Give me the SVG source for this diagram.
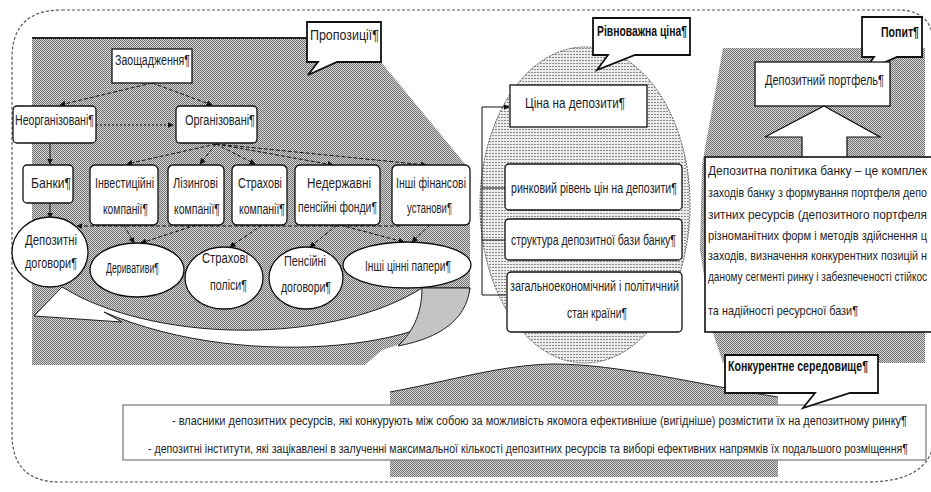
<svg xmlns="http://www.w3.org/2000/svg" width="931" height="492" viewBox="0 0 931 492">
<style>
.t{font-family:"Liberation Sans",Arial,sans-serif;font-size:11px;fill:#1e1e28}
.r{font-size:9px}
.q{font-size:9.5px}
.b{font-weight:bold;fill:#111}
.box{fill:#fff;stroke:#111;stroke-width:1.3}
.call{fill:#fff;stroke:#111;stroke-width:1.8;stroke-linejoin:miter}
.dash{fill:none;stroke:#111;stroke-width:1;stroke-dasharray:4 2}
.sol{fill:none;stroke:#111;stroke-width:1}
</style>
<defs>
<pattern id="dots" width="2" height="2" patternUnits="userSpaceOnUse">
<rect width="2" height="2" fill="#d6d6d6"/>
<rect width="1" height="1" fill="#727272"/>
<rect x="1" y="1" width="1" height="1" fill="#727272"/>
</pattern>
<pattern id="horz" width="3" height="3" patternUnits="userSpaceOnUse">
<rect width="3" height="3" fill="#ececec"/>
<rect width="2" height="1" fill="#8a8a8a"/>
</pattern>
<marker id="ah" viewBox="0 0 10 10" refX="9" refY="5" markerWidth="6" markerHeight="6" orient="auto">
<path d="M0,0 L10,5 L0,10 z" fill="#111"/>
</marker>
</defs>

<g id="background">
<path d="M62 10 H898 Q932 10 934 44 V440 Q930 482 866 482 H60 Q12 482 12 434 V58 Q12 10 62 10 Z" fill="none" stroke="#555" stroke-width="1.2" stroke-dasharray="3 2"/>
<polygon points="32,38 307,38 307,62 381,62 470,170 470,290 440,332 382,350 365,365 32,365" fill="url(#dots)"/>
<line x1="32" y1="38" x2="307" y2="38" stroke="#222" stroke-width="2"/>
<polygon points="723,48 925,48 925,363 723,363 713,333 700,250 702,165" fill="url(#dots)"/>
<path d="M390 477 V392 C450 381 500 365 553 364 C620 364 700 385 778 397 V477 Z" fill="url(#dots)"/>
<path d="M390 392 C450 381 500 365 553 364 C620 364 700 385 778 397" fill="none" stroke="#222" stroke-width="1"/>
<ellipse cx="585" cy="205" rx="105" ry="158" fill="url(#horz)" stroke="#555" stroke-width="1" stroke-dasharray="2 1"/>
</g>

<g id="curved-arrow">
<path d="M34 316 L62 287 L80 297 C180 345 340 340 422 288 L470 288 C462 345 250 375 104 312 L122 322 Z" fill="#fff" stroke="#222" stroke-width="1"/>
<path d="M422 288 L470 288 C466 320 440 338 398 346 C415 330 422 310 422 288 Z" fill="#c4c4c4" stroke="#222" stroke-width="1"/>
</g>

<g id="connectors">
<path class="dash" d="M152 83 L60 105" marker-end="url(#ah)"/>
<path class="dash" d="M152 83 L212 105" marker-end="url(#ah)"/>
<path class="sol" d="M96 125 L173 125" stroke-dasharray="2 2" marker-end="url(#ah)"/>
<path class="sol" d="M50 143 L50 164" marker-end="url(#ah)"/>
<path class="dash" d="M216 144 L127 164" marker-end="url(#ah)"/>
<path class="dash" d="M216 144 L200 164" marker-end="url(#ah)"/>
<path class="dash" d="M216 144 L255 164" marker-end="url(#ah)"/>
<path class="dash" d="M216 144 L333 165" marker-end="url(#ah)"/>
<path class="dash" d="M216 144 L426 165" marker-end="url(#ah)"/>
<path class="sol" d="M50 203 L50 218" marker-end="url(#ah)"/>
<path class="dash" d="M400 226 L77 226" marker-end="url(#ah)"/>
<path class="dash" d="M124 225 L134 243" marker-end="url(#ah)"/>
<path class="dash" d="M196 225 L141 243" marker-end="url(#ah)"/>
<path class="dash" d="M262 225 L230 247" marker-end="url(#ah)"/>
<path class="dash" d="M337 225 L310 247" marker-end="url(#ah)"/>
<path class="dash" d="M340 225 L404 242" marker-end="url(#ah)"/>
<path class="dash" d="M430 225 L412 242" marker-end="url(#ah)"/>
<path class="sol" d="M506 295 H482 V107 H509" marker-end="url(#ah)"/>
<path class="sol" d="M482 188 H505 M482 240 H505"/>
</g>

<g id="callout-proposition">
<path class="call" d="M307 22 H381 V62 H337 L308 75 L318 62 H307 Z"/>
<text class="t" transform="translate(310,40) scale(1,1.27)" textLength="69" lengthAdjust="spacingAndGlyphs">Пропозиції¶</text>
</g>
<g id="node-savings">
<rect class="box" x="112" y="49" width="80" height="34"/>
<text class="t" transform="translate(115,65) scale(1,1.27)" textLength="75" lengthAdjust="spacingAndGlyphs">Заощадження¶</text>
</g>
<g id="node-unorganized">
<rect class="box" x="13" y="106" width="83" height="37" rx="4"/>
<text class="t" transform="translate(15,125) scale(1,1.27)" textLength="79" lengthAdjust="spacingAndGlyphs">Неорганізовані¶</text>
</g>
<g id="node-organized">
<rect class="box" x="176" y="106" width="81" height="37" rx="4"/>
<text class="t" transform="translate(185,125) scale(1,1.27)" textLength="70" lengthAdjust="spacingAndGlyphs">Організовані¶</text>
</g>
<g id="node-banks">
<rect class="box" x="23" y="165" width="50" height="38" rx="4"/>
<text class="t" transform="translate(31,188) scale(1,1.27)" textLength="40" lengthAdjust="spacingAndGlyphs">Банки¶</text>
</g>
<g id="node-invest">
<rect class="box" x="90" y="165" width="68" height="60" rx="5"/>
<text class="t" transform="translate(95,188) scale(1,1.27)" textLength="59" lengthAdjust="spacingAndGlyphs">Інвестиційні</text>
<text class="t" transform="translate(103,214) scale(1,1.27)" textLength="45" lengthAdjust="spacingAndGlyphs">компанії¶</text>
</g>
<g id="node-leasing">
<rect class="box" x="168" y="165" width="56" height="60" rx="5"/>
<text class="t" transform="translate(173,188) scale(1,1.27)" textLength="45" lengthAdjust="spacingAndGlyphs">Лізингові</text>
<text class="t" transform="translate(174,214) scale(1,1.27)" textLength="46" lengthAdjust="spacingAndGlyphs">компанії¶</text>
</g>
<g id="node-insurance">
<rect class="box" x="232" y="165" width="55" height="60" rx="5"/>
<text class="t" transform="translate(238,188) scale(1,1.27)" textLength="44" lengthAdjust="spacingAndGlyphs">Страхові</text>
<text class="t" transform="translate(239,214) scale(1,1.27)" textLength="46" lengthAdjust="spacingAndGlyphs">компанії¶</text>
</g>
<g id="node-pension-funds">
<rect class="box" x="295" y="165" width="85" height="60" rx="5"/>
<text class="t" transform="translate(307,188) scale(1,1.27)" textLength="64" lengthAdjust="spacingAndGlyphs">Недержавні</text>
<text class="t" transform="translate(298,212) scale(1,1.27)" textLength="79" lengthAdjust="spacingAndGlyphs">пенсійні фонди¶</text>
</g>
<g id="node-other-inst">
<rect class="box" x="392" y="165" width="78" height="60" rx="5"/>
<text class="t" transform="translate(396,188) scale(1,1.27)" textLength="70" lengthAdjust="spacingAndGlyphs">Інші фінансові</text>
<text class="t" transform="translate(407,213) scale(1,1.27)" textLength="45" lengthAdjust="spacingAndGlyphs">установи¶</text>
</g>
<g id="node-deposit-contracts">
<ellipse class="box" cx="50" cy="252" rx="38" ry="35"/>
<text class="t" transform="translate(25,245) scale(1,1.27)" textLength="52" lengthAdjust="spacingAndGlyphs">Депозитні</text>
<text class="t" transform="translate(25,268) scale(1,1.27)" textLength="52" lengthAdjust="spacingAndGlyphs">договори¶</text>
</g>
<g id="node-derivatives">
<ellipse class="box" cx="137" cy="270" rx="47" ry="27"/>
<text class="t" transform="translate(106,273) scale(1,1.27)" textLength="53" lengthAdjust="spacingAndGlyphs">Деривативи¶</text>
</g>
<g id="node-policies">
<ellipse class="box" cx="224" cy="278" rx="39" ry="31"/>
<text class="t" transform="translate(202,263) scale(1,1.27)" textLength="46" lengthAdjust="spacingAndGlyphs">Страхові</text>
<text class="t" transform="translate(210,290) scale(1,1.27)" textLength="37" lengthAdjust="spacingAndGlyphs">поліси¶</text>
</g>
<g id="node-pension-contracts">
<ellipse class="box" cx="306" cy="278" rx="37" ry="31"/>
<text class="t" transform="translate(284,266) scale(1,1.27)" textLength="42" lengthAdjust="spacingAndGlyphs">Пенсійні</text>
<text class="t" transform="translate(281,292) scale(1,1.27)" textLength="50" lengthAdjust="spacingAndGlyphs">договори¶</text>
</g>
<g id="node-securities">
<ellipse class="box" cx="407" cy="265" rx="64" ry="23"/>
<text class="t" transform="translate(365,271) scale(1,1.27)" textLength="86" lengthAdjust="spacingAndGlyphs">Інші цінні папери¶</text>
</g>

<g id="callout-equilibrium">
<path class="call" d="M593 18 H690 V55 H635 L597 70 L608 55 H593 Z"/>
<text class="t b" transform="translate(597,36) scale(1,1.27)" textLength="90" lengthAdjust="spacingAndGlyphs">Рівноважна ціна¶</text>
</g>
<g id="node-price">
<rect class="box" x="510" y="85" width="137" height="42"/>
<text class="t" transform="translate(525,108) scale(1,1.27)" textLength="100" lengthAdjust="spacingAndGlyphs">Ціна на депозити¶</text>
</g>
<g id="node-market-level">
<rect class="box" x="505" y="164" width="177" height="46" rx="4"/>
<text class="t" transform="translate(511,193) scale(1,1.27)" textLength="166" lengthAdjust="spacingAndGlyphs">ринковий рівень цін на депозити¶</text>
</g>
<g id="node-structure">
<rect class="box" x="505" y="219" width="177" height="41" rx="4"/>
<text class="t" transform="translate(511,245) scale(1,1.27)" textLength="165" lengthAdjust="spacingAndGlyphs">структура депозитної бази банку¶</text>
</g>
<g id="node-economy">
<rect class="box" x="507" y="272" width="175" height="60" rx="4"/>
<text class="t" transform="translate(510,291) scale(1,1.27)" textLength="169" lengthAdjust="spacingAndGlyphs">загальноекономічний і політичний</text>
<text class="t" transform="translate(567,318) scale(1,1.27)" textLength="60" lengthAdjust="spacingAndGlyphs">стан країни¶</text>
</g>

<g id="callout-demand">
<path class="call" d="M862 17 H922 V57 H897 L863 72 L874 57 H862 Z"/>
<text class="t b" transform="translate(881,37) scale(1,1.27)" textLength="38" lengthAdjust="spacingAndGlyphs">Попит¶</text>
</g>
<g id="node-portfolio">
<rect class="box" x="755" y="62" width="135" height="44"/>
<text class="t" transform="translate(765,85) scale(1,1.27)" textLength="119" lengthAdjust="spacingAndGlyphs">Депозитний портфель¶</text>
</g>
<g id="up-arrow">
<polygon points="824,106 880,137 847,137 847,158 802,158 802,137 765,137" fill="#fff" stroke="#111" stroke-width="1.2"/>
</g>
<g id="node-policy-text">
<rect x="705" y="157" width="240" height="175" fill="#fff" stroke="#111" stroke-width="1.6"/>
<text class="t r" transform="translate(708,175) scale(1,1.45)" textLength="219" lengthAdjust="spacingAndGlyphs">Депозитна політика банку – це комплек</text>
<text class="t r" transform="translate(708,197) scale(1,1.45)" textLength="219" lengthAdjust="spacingAndGlyphs">заходів банку з формування портфеля депо</text>
<text class="t r" transform="translate(708,219) scale(1,1.45)" textLength="219" lengthAdjust="spacingAndGlyphs">зитних ресурсів (депозитного портфеля</text>
<text class="t r" transform="translate(708,240) scale(1,1.45)" textLength="219" lengthAdjust="spacingAndGlyphs">різноманітних форм і методів здійснення ц</text>
<text class="t r" transform="translate(708,260) scale(1,1.45)" textLength="219" lengthAdjust="spacingAndGlyphs">заходів, визначення конкурентних позицій н</text>
<text class="t r" transform="translate(708,281) scale(1,1.45)" textLength="219" lengthAdjust="spacingAndGlyphs">даному сегменті ринку і забезпеченості стійкос</text>
<text class="t r" transform="translate(708,315) scale(1,1.45)" textLength="150" lengthAdjust="spacingAndGlyphs">та надійності ресурсної бази¶</text>
</g>

<g id="node-competition-text">
<rect x="123" y="405" width="803" height="55" fill="#fff" stroke="#777" stroke-width="1.2"/>
<text class="t q" transform="translate(172,425) scale(1,1.4)" textLength="735" lengthAdjust="spacingAndGlyphs">- власники депозитних ресурсів, які конкурують між собою за можливість якомога ефективніше (вигідніше) розмістити їх на депозитному ринку¶</text>
<text class="t q" transform="translate(148,453) scale(1,1.4)" textLength="760" lengthAdjust="spacingAndGlyphs">- депозитні інститути, які зацікавлені в залученні максимальної кількості депозитних ресурсів та виборі ефективних напрямків їх подальшого розміщення¶</text>
</g>
<g id="callout-competition">
<path class="call" d="M725 355 H878 V393 H850 L803 408 L815 393 H725 Z"/>
<text class="t b" transform="translate(728,371) scale(1,1.27)" textLength="140" lengthAdjust="spacingAndGlyphs">Конкурентне середовище¶</text>
</g>
</svg>
